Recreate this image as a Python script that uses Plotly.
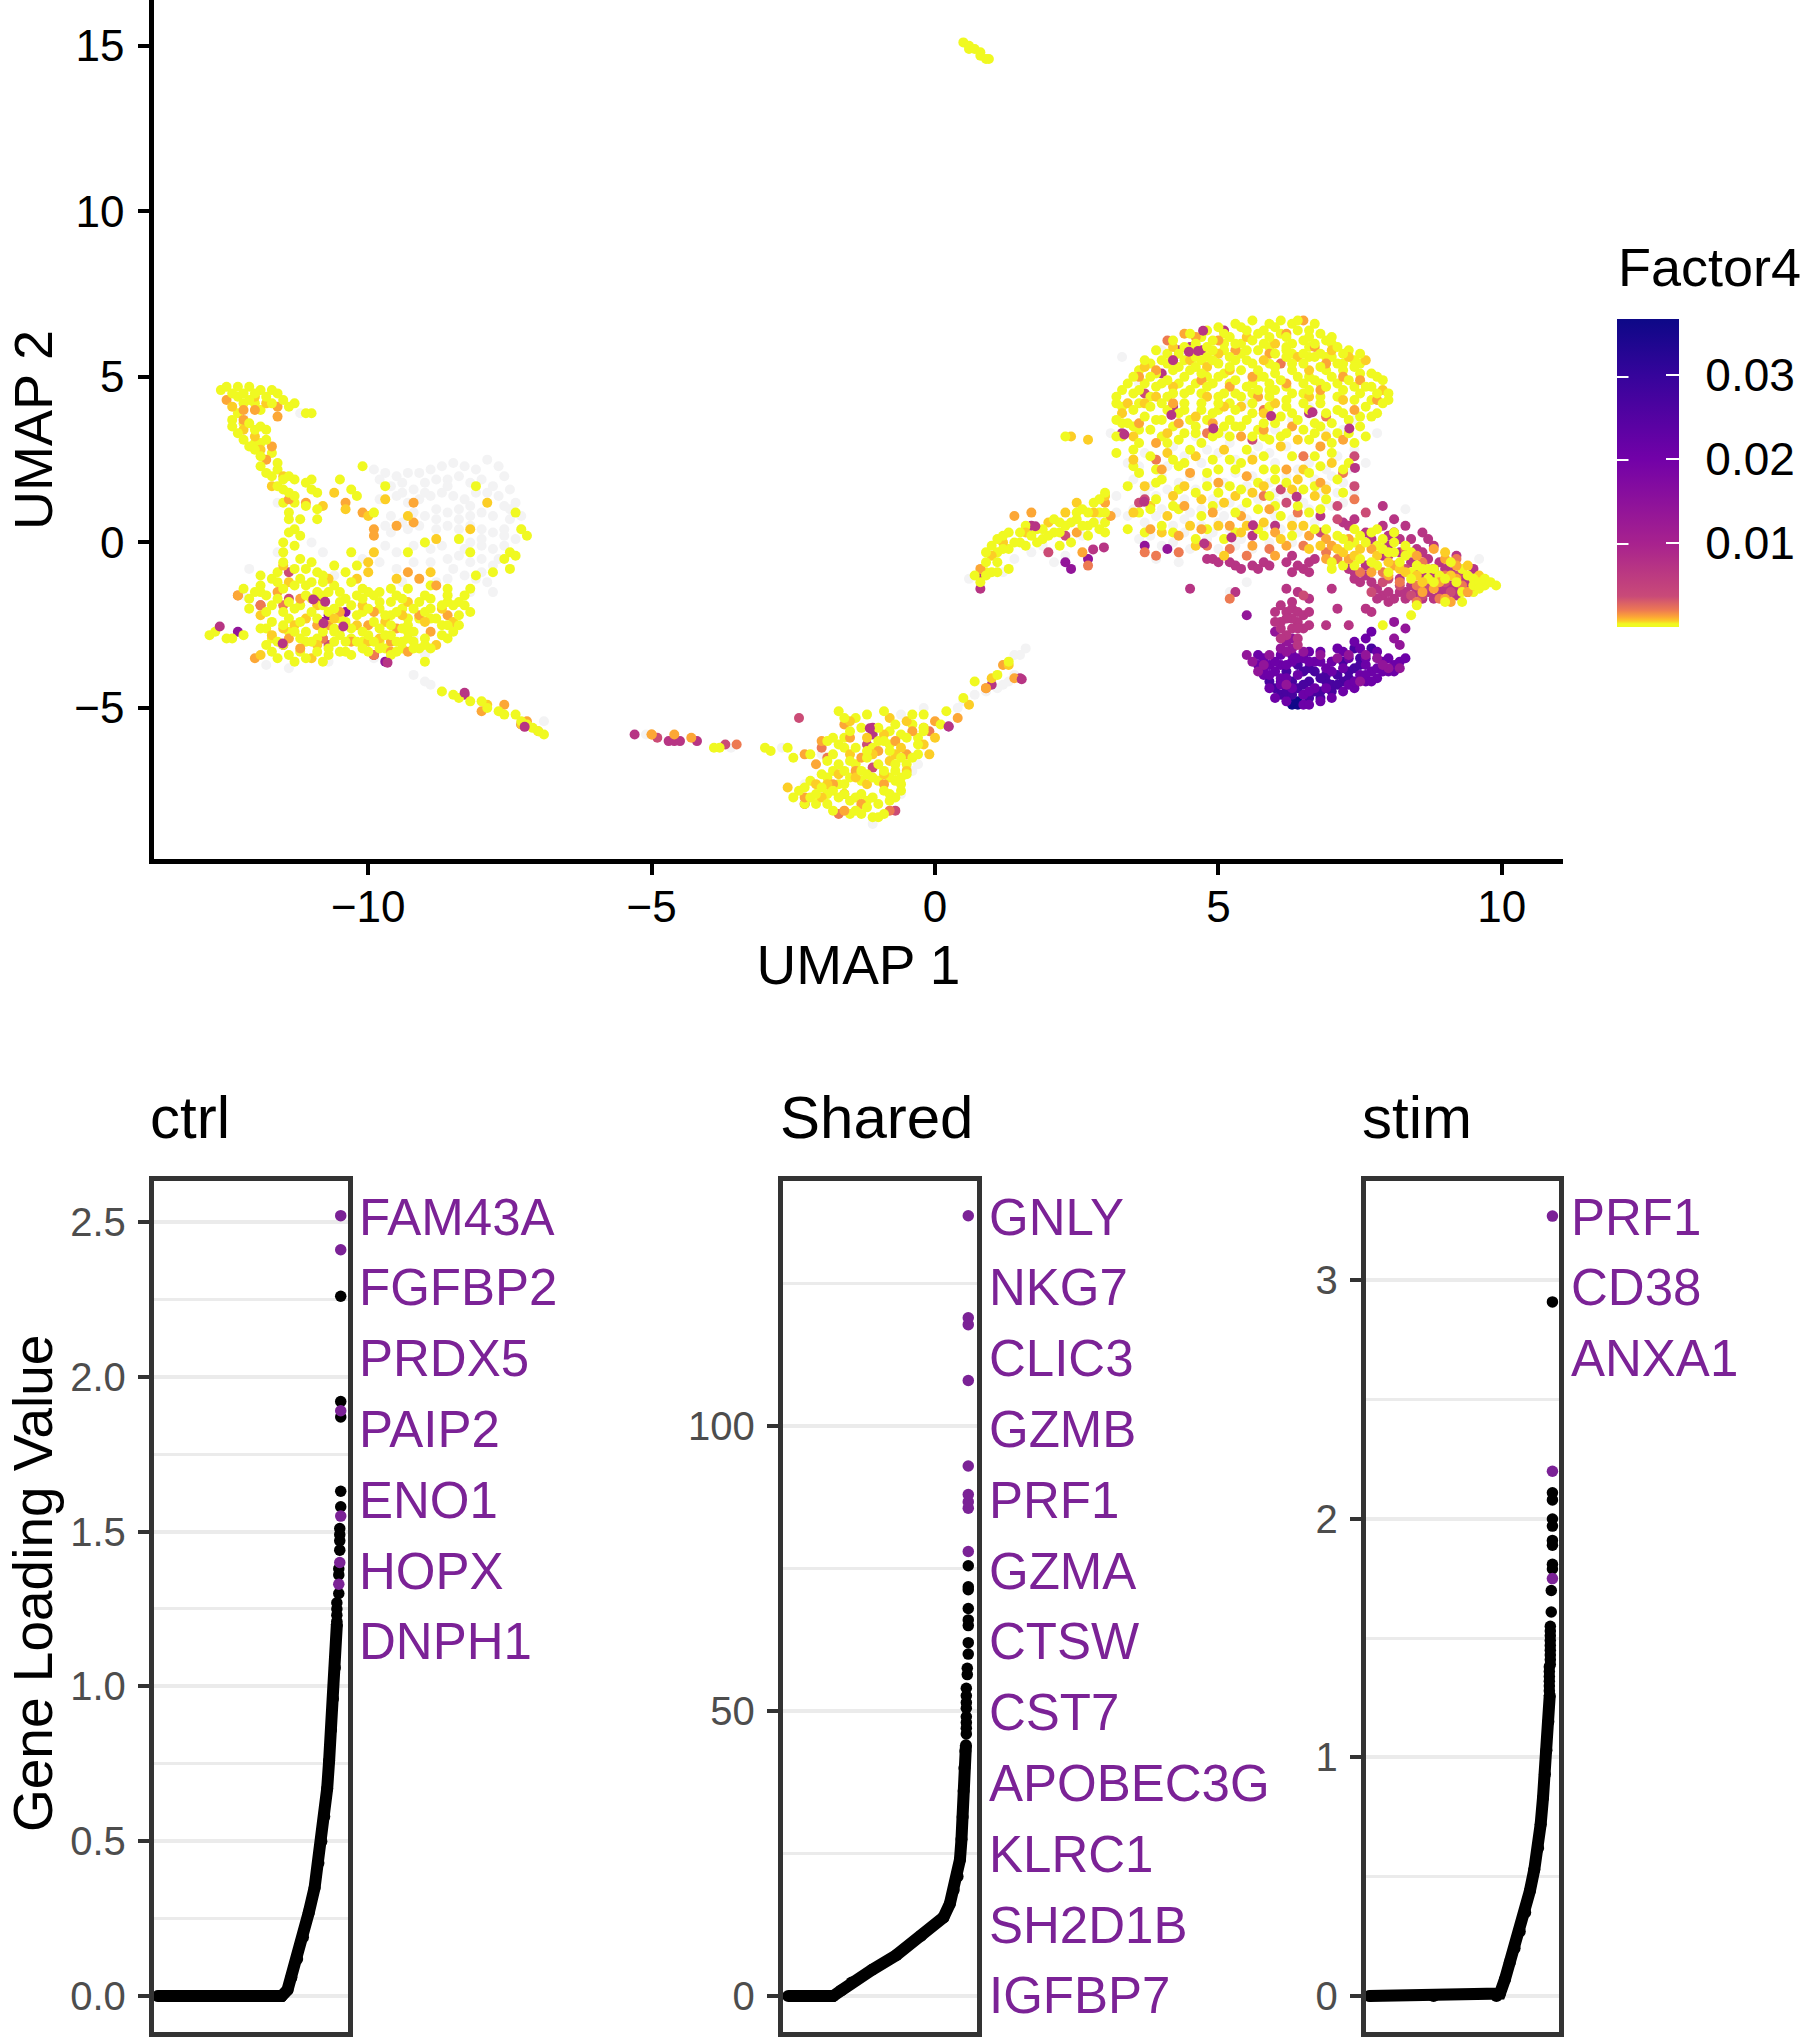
import plotly.graph_objects as go

W, H = 1804, 2040
FONT = "Liberation Sans"
PURPLE = "#7B2296"

# ---- UMAP points: (UMAP 1, UMAP 2) ----
pts_grey = [
(-9.9,2.2),(-9.7,2.1),(-9.5,2.0),(-9.3,2.1),(-9.1,2.1),(-8.9,2.2),(-8.7,2.3),(-8.5,2.4),(-8.3,2.3),(-8.1,2.2),(-7.9,2.5),(-7.7,2.3),(-7.6,2.0),
(-9.6,1.7),(-9.4,1.8),(-9.2,1.6),(-9.0,1.8),(-8.8,1.9),(-8.6,1.9),(-8.4,2.0),(-8.2,1.8),(-8.0,1.9),(-7.8,1.7),(-7.5,1.6),(-7.7,1.4),
(-9.8,1.3),(-9.5,1.4),(-9.3,1.2),(-9.1,1.3),(-8.9,1.4),(-8.7,1.5),(-8.5,1.4),(-8.3,1.3),(-8.1,1.5),(-7.9,1.2),(-7.6,1.1),(-7.4,1.2),(-7.3,0.8),
(-9.9,0.9),(-9.6,0.8),(-9.2,0.9),(-9.0,0.8),(-8.8,1.0),(-8.6,0.9),(-8.4,1.0),(-8.2,0.8),(-8.0,0.9),(-7.8,0.8),(-7.5,0.7),(-7.3,0.4),
(-9.6,0.3),(-9.3,0.4),(-9.1,0.5),(-8.8,0.4),(-8.6,0.5),(-8.4,0.4),(-8.2,0.5),(-8.0,0.4),(-7.8,0.3),(-7.6,0.4),(-7.4,0.1),
(-9.7,-0.1),(-9.5,-0.3),(-9.2,-0.1),(-9.0,0.0),(-8.7,-0.1),(-8.4,0.1),(-8.2,0.0),(-8.0,-0.1),(-7.8,-0.2),(-7.6,-0.1),
(-9.8,-0.6),(-9.5,-0.8),(-9.2,-0.6),(-8.9,-0.6),(-8.6,-0.5),(-8.4,-0.4),(-8.2,-0.6),(-8.0,-0.5),(-7.8,-0.7),
(-9.4,-1.2),(-9.1,-1.1),(-8.8,-1.2),(-8.6,-1.1),(-8.3,-1.0),(-8.1,-1.1),(-7.9,-1.2),(-7.8,-1.5),(-8.2,-1.5),(-8.6,-1.6),
(-9.8,1.9),(-9.4,1.5),(-9.0,1.5),(-8.6,1.7),(-8.2,1.1),(-7.9,1.5),(-7.5,1.0),(-8.4,0.7),(-8.8,0.7),(-9.4,0.6),(-9.7,0.5),(-8.0,0.1),(-7.6,0.2),(-8.9,-0.2),(-8.3,-0.2),(-7.7,-0.5),(-8.5,-0.8),(-8.0,-0.9),
(-11.6,-0.3),(-11.0,0.0),(-10.8,-0.3),(-10.1,-0.5),(-10.6,-1.0),(-12.1,-0.8),(-12.2,-1.6),(-11.6,1.2),(-11.2,3.9),(-12.2,3.9),
(-11.8,-3.7),(-11.4,-3.8),(-10.7,-3.6),(-9.9,-3.5),(-9.2,-2.9),(-9.0,-3.4),(-9.2,-4.0),(-9.0,-4.2),(-8.9,-4.3),(-8.7,-4.5),(-6.9,-5.4),
(-5.1,-5.8),(-3.6,-6.2),(-2.7,-6.2),(-1.1,-8.5),(-2.3,-7.3),(-2.0,-6.4),(-0.6,-5.2),(-0.4,-6.9),(-0.3,-6.7),(-0.6,-7.6),(-0.2,-5.0),
(0.4,-5.0),(0.5,-4.8),(0.7,-4.6),(0.9,-4.5),(1.0,-4.3),(1.1,-4.4),(1.2,-4.3),(1.3,-4.2),(1.4,-3.4),(1.5,-3.4),(1.6,-3.2),(1.4,-4.0),
(1.7,-0.3),(1.9,-0.1),(2.1,-0.6),(2.3,-0.4),(0.6,-1.1),(1.2,-0.9),(1.4,-0.5),(2.6,0.2),(2.9,0.7),(3.2,0.9),(3.2,1.4),(3.1,3.3),(3.3,5.6),
(3.4,2.4),(3.6,2.3),(3.9,2.5),(4.1,2.3),(4.4,2.6),(4.7,2.4),(5.0,2.7),(5.3,2.5),(5.6,2.6),(5.9,2.7),(6.2,2.9),(6.5,2.6),(6.8,2.9),(7.1,2.6),(7.4,2.8),(7.6,2.4),
(3.5,1.9),(3.8,1.7),(4.0,2.0),(4.3,1.8),(4.5,2.0),(4.8,1.9),(5.1,1.8),(5.3,2.1),(5.6,2.0),(5.9,1.8),(6.2,2.0),(6.4,2.2),(6.7,1.9),(7.0,2.0),(7.2,1.8),(7.4,1.5),
(3.6,1.2),(3.9,1.4),(4.2,1.1),(4.4,1.3),(4.7,1.0),(4.9,1.3),(5.2,1.2),(5.4,1.0),(5.7,1.3),(6.0,1.2),(6.2,1.4),(6.5,1.2),(6.8,1.5),(7.0,1.1),(7.2,1.2),
(3.4,0.8),(3.7,0.6),(3.9,0.8),(4.2,0.5),(4.4,0.7),(4.7,0.5),(5.0,0.6),(5.2,0.4),(5.5,0.7),(5.8,0.5),(6.1,0.4),(6.3,0.7),(6.6,1.0),(6.9,1.2),
(3.6,0.1),(4.0,-0.1),(4.2,0.0),(4.5,-0.2),(4.8,0.1),(5.0,-0.2),(5.3,-0.1),(5.6,-0.2),(3.9,-0.5),(4.3,-0.6),(5.2,-1.5),(5.5,-1.2),(7.9,1.1),(8.3,1.0),(9.6,-0.5),
(3.6,4.8),(4.0,5.8),(5.0,5.5),(5.5,4.2),(6.0,3.4),(6.3,3.7),(6.6,4.1),(6.9,3.3),(7.2,3.4),(7.4,3.7),(4.6,3.2),(5.1,3.3),(7.8,3.3),
(3.7,2.7),(4.2,2.9),(4.8,2.8),(5.2,3.0),(5.7,2.9),(6.0,2.4),(6.6,2.4),(6.9,2.2),(7.3,2.2),(3.7,1.5),(4.1,1.6),(4.6,1.6),(5.0,1.1),(5.5,1.7),(6.0,1.5),(6.4,1.5),(6.9,1.7),(7.1,1.5),(3.5,1.0),(4.0,1.0),(4.5,0.9),(5.1,0.8),
(5.6,0.5),(6.0,0.8),(6.4,0.3),(6.7,0.6),(3.8,0.2),(4.4,0.3),(4.9,0.3),(5.4,0.1),(5.9,0.0),(6.3,0.0),
]
pts_navy = [(6.3,-4.9),(6.4,-4.9),(6.4,-4.8),(6.2,-4.7),(6.3,-4.8)]
pts_indigo = [
(6.0,-4.4),(6.1,-4.6),(6.2,-4.5),(6.5,-4.6),(6.6,-4.7),(6.8,-4.5),(6.9,-4.2),(7.1,-4.0),(7.2,-4.2),(6.6,-4.2),(6.3,-4.2),(6.5,-3.9),(6.7,-3.9),(7.0,-4.5),
(6.2,-3.9),(5.9,-4.2),(6.4,-4.4),(6.8,-4.7),(7.0,-4.3),(7.3,-4.1),(7.4,-3.8),(7.2,-3.6),(7.5,-3.5),(7.7,-3.2),(7.4,-3.2),
(6.1,-4.2),(6.3,-4.6),(6.5,-4.3),(6.7,-4.5),(6.9,-4.0),(7.1,-4.3),(6.4,-3.7),(6.6,-3.8),(6.8,-4.1),(7.3,-3.9),(7.5,-3.7),
]
pts_violet = [
(5.7,-3.7),(5.8,-4.0),(5.9,-4.4),(6.0,-4.7),(6.2,-4.8),(6.5,-4.9),(6.6,-4.9),(6.8,-4.8),(7.0,-4.7),(7.2,-4.5),(7.4,-4.4),(7.6,-4.2),(7.8,-4.1),(8.0,-3.9),
(5.7,-3.4),(5.9,-3.7),(6.0,-3.9),(6.1,-4.1),(5.8,-3.5),(6.1,-3.4),(6.3,-3.6),(6.5,-3.5),(6.7,-3.6),(6.9,-3.8),(7.0,-3.6),(7.2,-3.3),(7.4,-3.0),(7.6,-2.9),(7.7,-2.7),
(7.5,-4.0),(7.7,-3.9),(7.8,-3.8),(7.9,-3.6),(8.1,-3.7),(8.2,-3.6),(8.3,-3.5),(8.0,-3.5),(7.6,-3.7),(7.3,-4.3),(6.7,-4.4),(6.9,-4.4),(6.4,-4.0),(6.1,-3.7),(6.3,-3.4),
(6.6,-3.3),(6.8,-3.3),(7.1,-3.2),(7.2,-3.8),(7.0,-3.6),(6.5,-4.6),(6.1,-4.3),(5.8,-3.8),(5.9,-4.0),(6.0,-3.6),(6.2,-3.7),(6.4,-3.5),(6.6,-3.6),(6.8,-3.6),(7.0,-3.9),(7.3,-3.5),(7.5,-3.2),(7.6,-3.5),(7.8,-3.3),
(7.4,-4.2),(7.6,-4.0),(7.7,-4.2),(7.9,-3.9),(8.1,-3.9),(6.3,-4.4),(6.6,-4.5),(6.2,-4.1),
]
pts_purple = [
(5.7,-3.9),(5.8,-3.7),(5.6,-3.6),(5.9,-3.4),(6.1,-3.2),(6.3,-3.2),(6.2,-3.3),(6.5,-3.3),(6.8,-3.4),(7.1,-3.5),(7.3,-3.4),
(7.6,-3.4),(7.8,-3.5),(8.0,-3.8),(8.2,-3.8),(7.5,-4.2),(7.9,-3.7),(6.2,-4.3),(5.5,-3.4),(8.1,-2.4),(5.5,-2.2),(3.7,-0.1),(4.1,-0.2),(2.3,-0.6),(2.4,-0.8),(2.7,-0.5),
(6.0,-2.7),(6.3,-2.9),(8.3,-2.6),(8.1,-2.9),(8.2,-3.1),(6.2,-3.0),
(-10.9,-1.7),(-10.8,-2.4),(-10.7,-2.2),(-10.4,-2.1),(-9.7,-3.6),(-12.3,-2.7),(0.24,-5.56),
]
pts_magenta = [
(6.1,-1.9),(6.0,-2.1),(6.2,-2.1),(6.3,-2.0),(6.4,-2.1),(6.5,-2.2),(6.4,-2.4),(6.3,-2.6),(6.5,-2.6),(6.6,-2.5),(6.9,-2.5),(6.1,-2.6),(6.3,-2.3),(6.3,-1.8),(6.4,-1.5),(6.2,-1.4),
(6.6,-1.7),(6.6,-2.1),(7.0,-1.4),(7.1,-2.0),(7.6,-2.0),(7.7,-2.1),(7.3,-2.5),(4.5,-1.4),(5.3,-1.5),(4.8,-0.5),(4.9,-0.5),(5.0,-0.6),(5.3,-0.7),(5.4,-0.8),(5.6,-0.7),(5.8,-0.6),
(5.9,-0.7),(6.3,-0.4),(6.4,-0.7),(6.5,-0.8),(6.6,-0.6),(6.7,-0.5),(6.3,-0.9),(6.6,-0.9),(6.8,0.8),(7.2,0.6),(7.3,0.5),(7.6,0.3),(7.7,0.1),(8.1,0.7),(8.3,0.5),(8.6,0.3),(8.2,0.1),(8.4,0.1),
(8.0,0.2),(8.0,-0.1),(8.2,-0.3),(8.5,-0.2),(8.7,-0.5),(8.4,-0.6),(8.9,-0.6),(9.1,-0.9),(9.3,-1.1),(9.5,-0.8),(7.3,-0.8),(7.4,-1.1),(7.5,-1.2),(7.7,-1.2),(7.9,-1.6),(8.0,-1.8),(8.1,-1.7),(8.3,-1.5),
(8.5,-1.5),(8.8,-1.7),(9.0,-1.6),(9.2,-1.6),(9.3,-1.4),(8.9,-1.3),(8.6,-1.0),(8.8,-1.0),(9.1,-1.3),(9.4,-1.2),(7.8,-1.4),(8.2,-1.1),(4.5,5.9),(4.7,5.8),(4.2,4.1),(4.0,5.1),(4.3,5.8),(5.1,6.4),(3.3,3.3),
(6.6,3.9),(7.9,1.1),(6.0,0.5),(5.6,0.2),(1.0,-4.3),(1.5,-4.1),(-4.7,-6.0),(-4.6,-6.0),(-4.5,-6.0),(-4.2,-6.0),(-5.3,-5.8),(-1.1,-5.6),(-1.1,-5.8),(-10.8,-1.7),(-11.5,-3.1),(-8.3,-4.6),(-7.3,-5.5),(0.8,-1.0),(1.7,0.5),(0.8,-1.4),
(7.9,-0.4),(8.5,-0.9),(7.6,-0.7),(8.7,-1.5),(-9.9,-3.4),
(8.3,-1.7),(8.6,-1.7),(8.9,-1.5),(9.0,-1.4),(9.2,-1.4),(9.4,-1.5),(8.2,-1.5),(8.0,-1.5),(7.8,-1.7),(7.6,-1.0),(7.4,-0.9),(8.4,-1.3),(8.6,-1.3),(8.8,-0.8),(9.0,-0.8),(8.6,-0.3),(8.8,-0.1),(9.2,-0.4),
(7.9,0.5),(8.1,0.3),(8.7,0.1),(7.4,0.7),(6.2,-0.6),(5.7,-0.8),(5.2,-0.6),
(6.2,-2.3),(6.1,-2.4),(6.4,-2.6),(6.2,-2.8),(6.4,-2.9),(6.4,-3.1),(6.1,-2.9),(6.0,-2.4),
]
pts_pink = [
(7.6,0.9),(7.1,0.7),(8.0,-0.4),(8.3,-0.8),(8.7,-1.3),(7.9,-1.2),(8.4,-1.6),(9.1,-1.5),(9.3,-0.9),(6.8,0.3),(6.2,1.2),(3.7,1.3),(3.6,1.2),(3.7,4.5),(5.6,3.1),(7.4,2.6),(7.4,1.7),(7.1,1.1),
(6.1,1.6),(-11.4,-0.9),(-11.9,-1.9),(-11.4,-1.7),(-9.9,-3.4),(-10.7,-3.1),(-10.8,-2.9),(-4.9,-5.9),(-3.7,-6.1),(-2.3,-7.9),(-1.1,-6.8),(-1.2,-6.1),(-0.7,-8.1),(-2.4,-5.3),(2.3,0.2),(2.0,-0.3),
(8.6,-1.6),(8.0,-1.1),(8.2,-1.3),(9.0,-1.2),(9.2,-1.0),(7.7,-1.5),(6.5,-1.6),
]
pts_redorange = [
(5.2,-1.7),(2.7,-0.7),(3.7,-0.3),(3.9,-0.4),(4.3,-0.3),(4.8,-0.1),(5.2,-0.2),(5.5,-0.4),(5.9,-0.2),(6.5,-0.1),(6.9,-0.3),(7.1,-0.5),(7.5,-0.9),(7.9,-0.9),(8.2,-1.2),(8.5,-1.3),(8.6,-0.6),(8.3,-0.2),
(9.0,-1.0),(9.2,-0.5),(9.3,-1.3),(8.9,-1.7),(8.5,-1.8),(5.8,1.4),(6.4,0.9),(4.8,3.3),(6.5,2.6),(7.2,2.1),(6.9,3.8),(7.4,1.3),(6.1,5.4),(4.1,6.1),(5.8,4.0),(3.9,2.5),
(-11.9,-1.9),(-12.3,-1.6),(-11.5,-1.9),(-9.9,-3.4),(-10.8,-2.9),(-0.1,-5.7),(-2.0,-6.2),(-1.6,-7.6),(-1.9,-6.5),(-0.8,-8.1),(-1.7,-8.2),(0.9,-4.4),(-3.5,-6.1),
]
pts_orange = [
(-12.5,4.3),(-12.2,4.0),(-12.0,4.0),(-11.6,4.1),(-11.6,3.8),(-12.2,3.7),(-11.7,2.9),(-11.8,2.5),(-11.4,1.3),(-11.1,1.2),(-10.4,1.2),(-10.1,0.9),(-9.9,0.4),(-9.9,0.2),(-9.5,0.5),(-9.2,1.2),(-9.2,0.6),(-8.8,-1.3),
(-9.3,-0.9),(-9.1,-1.1),(-12.3,-1.6),(-11.6,-1.5),(-11.2,-1.7),(-10.9,-2.5),(-10.7,-2.5),(-10.5,-2.1),(-10.0,-2.5),(-9.9,-2.1),(-9.6,-3.0),(-9.5,-2.6),(-9.6,-3.3),(-11.2,-3.2),(-12.0,-3.5),(-11.4,-2.9),
(-10.3,-3.0),(-9.1,-2.2),(-8.6,-2.2),(-8.9,-2.7),(-9.3,-3.3),(-7.6,-4.9),(-7.2,-5.4),(-7.0,-5.7),(-8.0,-5.1),(-5.0,-5.8),(-4.6,-5.8),(-4.3,-5.9),(-5.0,-5.8),
(-2.3,-6.4),(-2.1,-6.7),(-2.0,-6.0),(-1.6,-5.5),(-1.5,-5.9),(-1.3,-6.5),(-1.4,-6.9),(-1.0,-6.3),(-0.7,-6.0),(-0.5,-6.4),(-0.4,-5.7),(-0.2,-5.6),(-1.8,-7.3),(-1.3,-7.9),(-0.9,-7.3),(-2.3,-7.7),(-1.6,-8.1),
(0.0,-5.4),(0.9,-4.4),(1.2,-3.7),(1.4,-4.1),(0.4,-5.3),
(3.6,5.0),(3.9,5.2),(4.2,5.5),(4.4,6.3),(4.6,6.2),(5.0,6.1),(5.3,5.8),(5.6,5.0),(5.9,5.7),(6.2,6.3),(6.5,6.7),(6.7,5.9),(6.9,5.4),(7.2,5.0),(7.5,4.9),(7.8,4.3),(7.4,4.0),(6.8,4.6),(6.2,4.8),(5.7,4.4),
(5.2,4.7),(4.7,4.9),(4.2,4.2),(3.6,3.6),(3.9,3.0),(4.3,3.6),(4.9,3.6),(5.4,3.2),(5.8,3.4),(6.3,3.5),(6.8,2.9),(7.2,3.1),(4.0,2.2),(4.5,2.1),(5.0,1.8),(5.5,2.0),(6.2,2.2),(6.8,1.8),(4.4,1.1),(4.9,0.9),(5.4,0.8),(5.9,1.0),
(3.8,0.4),(4.3,0.2),(4.7,0.4),(5.2,0.5),(5.6,-0.1),(6.0,0.3),(6.6,0.2),(6.9,0.1),(7.3,0.1),(7.7,-0.2),(6.0,-0.4),(6.2,-0.1),(8.5,-0.4),(8.8,-0.2),(9.0,-0.5),(8.6,-1.5),(8.1,-0.7),(8.9,-1.2),(9.2,-0.7),
(9.4,-1.5),(9.1,-1.8),(7.0,-0.1),(1.4,0.8),(1.7,0.9),(2.5,0.3),(2.6,-0.3),(3.0,1.2),(3.1,0.8),(0.8,-0.8),
(6.9,-0.5),(7.3,-0.5),(7.7,-0.9),(8.0,-1.0),(8.8,-1.4),(9.0,-1.7),(9.5,-1.3),(9.2,-1.1),
]
pts_gold = [
(-12.4,4.1),(-12.0,4.4),(-11.8,4.2),(-12.2,3.4),(-12.0,3.2),(-11.9,2.8),(-11.5,2.0),(-11.7,1.7),(-10.8,1.1),(-10.6,1.5),(-10.4,1.0),(-9.7,1.3),(-10.0,0.8),(-9.9,-0.3),(-10.0,-0.6),(-9.3,0.8),
(-9.5,-1.1),(-8.9,-0.9),(-7.9,1.2),(-8.2,0.4),(-8.8,0.1),(-11.5,-0.7),(-11.4,-1.2),(-10.7,-1.1),(-10.2,-1.1),(-10.0,-0.9),(-11.9,-2.2),(-11.5,-2.6),(-11.1,-2.3),(-10.9,-1.9),(-10.2,-2.5),(-9.8,-2.9),(-9.4,-2.2),
(-9.0,-2.4),(-8.7,-2.0),(-8.5,-2.4),(-8.8,-3.1),(-11.0,-3.5),(-11.9,-3.4),(-10.0,-3.0),(-7.9,-4.9),(-7.3,-5.5),(-2.6,-7.4),(-2.1,-7.3),(-2.0,-7.7),(-1.7,-7.0),(-1.5,-6.4),(-1.2,-7.3),(-1.1,-6.4),
(-0.8,-6.6),(-0.5,-6.9),(-0.6,-6.2),(-0.2,-6.1),(-0.1,-6.4),(-1.5,-5.4),(-0.9,-5.8),(-0.5,-5.4),(-0.8,-5.3),(0.0,-5.9),(1.3,-3.7),(1.0,-4.1),(0.6,-4.9),
(3.4,4.2),(3.7,5.3),(3.9,4.4),(4.2,5.9),(4.5,5.5),(4.8,5.3),(5.0,5.7),(5.2,5.2),(5.5,6.2),(5.8,5.5),(6.0,6.0),(6.4,5.6),(6.6,5.2),(7.0,5.8),(7.3,5.6),(7.6,5.5),(7.9,4.6),(7.2,4.3),(6.6,4.4),(6.0,4.2),(5.4,4.1),(4.8,4.4),
(4.2,4.7),(3.7,4.2),(3.3,3.9),(3.5,3.2),(4.1,3.3),(4.6,3.8),(5.1,4.1),(5.8,3.9),(6.4,3.1),(6.9,3.2),(4.1,2.7),(3.5,2.5),(4.6,2.6),(5.1,2.8),(5.6,2.5),(6.1,2.9),(6.5,2.2),(7.0,2.4),(3.7,1.7),(4.4,1.7),(5.1,1.2),(5.6,1.5),(6.3,1.6),
(6.7,1.4),(3.5,0.9),(4.1,0.8),(4.5,0.5),(5.0,0.5),(5.4,0.3),(5.8,0.6),(6.3,0.5),(6.6,-0.2),(6.8,-0.1),(7.2,-0.3),(7.5,-0.2),(8.0,-0.6),(8.3,-0.9),(8.6,-1.2),(9.0,-0.3),(9.4,-0.7),(9.6,-1.0),(1.0,-0.4),(1.2,0.0),
(1.6,0.3),(2.0,0.6),(2.3,0.9),(2.5,1.2),(2.8,0.9),(3.0,1.4),(2.4,3.2),(2.7,3.1),
(3.8,1.1),(4.2,1.4),(4.7,1.3),(5.3,1.4),(5.8,1.7),(6.4,1.9),(6.9,1.6),(4.0,0.3),(4.6,-0.1),(5.1,-0.4),(5.5,0.5),(6.1,0.1),(6.5,0.5),(7.1,-0.2),(7.4,-0.4),(7.8,-0.4),(8.2,-0.8),(8.5,-1.0),(9.1,-1.0),
(-10.6,-2.3),(-10.1,-1.9),(-9.7,-2.4),(-11.3,-2.5),(-11.7,-2.8),(-10.9,-3.1),(-9.3,-1.8),(-1.9,-7.3),(-1.4,-7.1),(-0.9,-7.0),(-0.7,-6.4),(-1.2,-5.9),
]
pts_yellow = [
(0.5,15.1),(0.6,15.0),(0.6,14.9),(0.7,14.9),(0.8,14.8),(0.8,14.7),(0.9,14.6),(0.95,14.6),
(-12.6,4.6),(-12.5,4.7),(-12.3,4.7),(-12.1,4.7),(-11.9,4.6),(-11.7,4.6),(-11.6,4.5),(-11.5,4.3),(-12.4,4.5),(-12.2,4.5),(-12.0,4.5),(-11.8,4.4),(-12.1,4.3),(-11.7,4.2),(-11.3,4.2),(-11.1,3.9),(-11.0,3.9),(-11.4,4.1),
(-12.4,3.7),(-12.4,3.5),(-12.3,3.3),(-12.1,3.6),(-12.2,3.1),(-12.0,3.4),(-11.9,3.5),(-12.1,2.9),(-12.0,2.8),(-11.8,3.4),(-11.8,3.1),(-11.9,2.6),(-11.9,2.3),(-11.8,2.1),(-11.6,2.4),(-11.7,2.0),(-11.6,1.7),(-11.5,1.9),(-11.3,1.9),
(-11.4,2.0),(-11.4,1.5),(-11.0,1.6),(-11.0,1.9),(-11.1,1.8),(-11.3,1.4),(-11.1,1.1),(-10.9,1.0),(-10.9,0.7),(-11.4,0.9),(-11.4,0.7),(-11.2,0.7),(-11.3,0.4),(-11.4,0.3),(-11.2,0.2),(-11.5,0.0),(-11.3,-0.1),(-11.5,-0.3),(-11.2,-0.5),
(-11.5,-0.6),(-11.1,-0.8),(-10.8,-1.0),(-10.1,2.3),(-9.7,1.7),(-10.5,1.9),(-10.3,1.6),(-10.2,1.4),(-9.9,0.9),(-8.1,1.7),(-9.0,0.0),(-9.3,-0.3),(-8.4,0.1),(-8.2,-0.3),(-7.4,0.9),(-7.3,0.4),(-7.2,0.2),(-7.5,-0.3),(-7.4,-0.4),
(-7.6,-0.5),(-8.1,-1.0),(-8.2,-1.4),(-8.6,-1.6),(-7.5,-0.8),(-7.8,-0.9),
(-12.8,-2.8),(-12.7,-2.7),(-12.5,-2.9),(-12.4,-2.9),(-12.2,-2.8),
(-12.2,-1.4),(-12.1,-1.7),(-11.9,-1.3),(-11.9,-1.0),(-11.8,-1.6),(-11.8,-2.1),(-11.7,-1.1),(-11.6,-1.7),(-11.5,-2.1),(-11.5,-1.4),(-11.4,-1.8),(-11.3,-1.3),(-11.3,-2.0),(-11.2,-2.4),(-11.2,-1.1),(-11.1,-1.6),(-11.0,-1.2),(-11.0,-2.1),(-10.9,-1.5),(-10.9,-2.3),
(-10.8,-1.2),(-10.8,-1.9),(-10.7,-1.5),(-10.6,-2.0),(-10.6,-2.6),(-10.5,-1.5),(-10.5,-1.8),(-10.4,-2.4),(-10.3,-1.9),(-10.3,-1.2),(-10.2,-2.2),(-10.1,-1.7),(-10.1,-1.4),(-10.0,-2.0),(-9.9,-1.6),(-9.9,-2.4),(-9.8,-1.8),(-9.7,-2.2),
(-9.6,-1.8),(-9.6,-2.5),(-9.5,-2.1),(-9.4,-1.7),(-9.3,-2.5),(-9.2,-2.0),(-9.2,-2.7),(-9.1,-1.8),(-9.0,-2.1),(-8.9,-2.0),(-8.9,-1.7),(-8.8,-2.3),(-8.7,-1.9),(-8.6,-2.5),(-8.5,-1.9),(-8.4,-2.2),(-8.3,-1.9),(-8.2,-2.1),(-8.6,-2.9),(-8.4,-2.5),
(-11.9,-2.6),(-11.8,-3.1),(-11.7,-2.4),(-11.6,-3.0),(-11.6,-3.5),(-11.5,-2.5),(-11.4,-3.4),(-11.3,-2.7),(-11.3,-3.6),(-11.2,-2.9),(-11.1,-3.5),(-11.1,-2.7),(-11.0,-3.0),(-10.9,-3.3),(-10.8,-2.7),(-10.8,-3.6),(-10.7,-3.2),(-10.6,-3.0),
(-10.5,-2.8),(-10.5,-3.3),(-10.4,-3.0),(-10.3,-2.6),(-10.3,-3.4),(-10.2,-3.0),(-10.1,-2.7),(-10.1,-3.2),(-10.0,-2.8),(-9.9,-3.0),(-9.8,-2.6),(-9.8,-3.2),(-9.7,-2.8),(-9.6,-2.8),(-9.5,-3.3),(-9.4,-3.0),(-9.3,-2.9),(-9.2,-3.2),(-9.1,-3.2),(-9.0,-2.9),
(-8.9,-3.2),(-9.4,-2.6),(-9.0,-3.6),(-9.6,-3.4),(-9.5,-3.0),(-8.7,-4.5),(-8.5,-4.6),(-8.4,-4.7),(-8.2,-4.8),(-8.0,-4.8),(-7.9,-5.0),(-7.7,-5.1),(-7.6,-5.2),(-7.4,-5.2),(-7.3,-5.4),(-7.2,-5.5),(-7.1,-5.6),(-7.0,-5.7),(-6.9,-5.8),
(-3.9,-6.2),(-3.8,-6.2),(-3.0,-6.2),(-2.9,-6.3),(-2.6,-6.2),(-2.5,-6.5),(-2.2,-6.4),
(-2.4,-7.5),(-2.5,-7.7),(-2.3,-7.4),(-2.2,-7.7),(-2.1,-7.6),(-2.0,-7.4),(-1.9,-7.9),(-1.8,-7.5),(-1.7,-7.7),(-1.6,-7.3),(-1.5,-7.8),(-1.4,-8.1),(-1.3,-7.6),(-1.2,-8.0),(-1.1,-7.7),(-1.1,-8.3),(-1.0,-7.9),(-1.0,-8.3),(-0.9,-7.5),(-0.8,-7.8),(-0.7,-7.2),(-0.6,-7.5),
(-2.0,-7.0),(-1.9,-6.6),(-1.8,-6.4),(-1.7,-6.7),(-1.6,-6.9),(-1.5,-6.6),(-1.4,-6.2),(-1.3,-6.9),(-1.2,-6.5),(-1.1,-7.1),(-1.0,-6.7),(-0.9,-6.9),(-0.8,-6.3),(-0.7,-6.7),(-0.6,-6.5),(-0.5,-7.0),(-0.4,-6.5),(-0.3,-6.1),(-0.2,-5.7),(-0.6,-7.1),
(-1.7,-5.1),(-1.6,-5.3),(-1.5,-5.7),(-1.3,-5.6),(-1.2,-6.3),(-1.0,-5.6),(-0.9,-6.0),(-0.9,-5.1),(-0.7,-5.5),(-0.5,-5.9),(-0.4,-5.2),(-0.2,-5.2),(-0.2,-5.6),(-1.8,-5.9),(-1.9,-6.0),(0.1,-5.5),(0.2,-5.1),(0.5,-4.7),(0.7,-4.2),(1.1,-4.0),(1.3,-3.6),
(0.7,-1.0),(0.8,-1.2),(0.9,-1.0),(0.9,-0.6),(0.9,-0.3),(1.0,-0.9),(1.0,-0.1),(1.1,-0.6),(1.1,0.1),(1.2,-0.2),(1.2,0.2),(1.3,0.3),(1.3,-0.8),(1.4,0.0),(1.5,0.3),(1.6,-0.1),(1.7,0.2),(1.8,0.4),(1.8,0.0),(1.9,0.4),(2.0,0.2),(2.1,0.7),(2.2,0.3),
(2.2,-0.1),(2.3,0.5),(2.4,0.0),(2.4,0.6),(2.5,0.9),(2.6,0.5),(2.6,1.0),(2.7,0.2),(2.7,0.9),(2.8,1.2),(2.8,0.6),(2.9,1.3),(2.9,0.4),(3.0,0.9),(3.0,0.3),(3.0,1.5),(2.3,3.2),
(5.6,6.7),(6.1,6.7),(6.4,6.7),(6.7,6.6),(5.0,6.5),(5.3,6.6),(5.8,6.4),(6.0,6.5),(6.4,6.4),(6.8,6.3),(4.5,6.3),(4.8,6.4),(5.2,6.2),(5.5,6.4),(6.2,6.2),(6.6,6.2),(7.0,6.2),(4.2,6.1),(4.6,6.0),(4.9,6.1),(5.3,6.0),(5.6,6.1),(5.9,6.2),(6.3,6.0),(6.7,6.0),(7.1,5.9),(3.9,5.8),
(4.3,5.7),(4.6,5.6),(4.9,5.8),(5.2,5.6),(5.5,5.8),(5.7,5.8),(6.0,5.7),(6.2,5.8),(6.5,5.7),(6.8,5.7),(7.2,5.7),(7.5,5.7),(3.7,5.5),(4.0,5.5),(4.3,5.3),(4.6,5.3),(4.9,5.5),(5.2,5.3),(5.5,5.5),(5.7,5.2),(6.0,5.3),(6.3,5.4),(6.5,5.4),(6.8,5.3),(7.1,5.4),(7.4,5.3),(7.7,5.1),
(3.5,5.0),(3.8,5.0),(4.1,4.9),(4.4,5.0),(4.7,5.1),(5.0,5.0),(5.3,4.9),(5.5,4.7),(5.8,5.0),(6.1,4.9),(6.4,5.0),(6.7,4.9),(7.0,5.0),(7.3,4.9),(7.6,4.7),(7.9,4.9),(3.3,4.6),(3.6,4.6),(3.9,4.7),(4.2,4.5),(4.5,4.6),(4.8,4.7),(5.1,4.5),(5.4,4.4),(5.7,4.6),(6.0,4.6),(6.3,4.5),
(6.6,4.6),(6.9,4.7),(7.2,4.6),(7.5,4.5),(7.8,4.5),(8.0,4.5),(3.2,4.2),(3.5,4.0),(3.8,4.1),(4.0,4.2),(4.4,4.2),(4.7,4.2),(5.0,4.2),(5.3,4.0),(5.6,4.2),(5.9,4.4),(6.2,4.1),(6.5,4.2),(6.8,4.2),(7.1,4.0),(7.6,4.1),(7.9,4.2),(3.2,3.7),(3.4,3.6),(3.7,3.8),(4.0,3.7),(4.3,3.9),
(4.6,3.5),(4.9,3.9),(5.2,3.7),(5.5,3.7),(5.8,3.6),(6.1,3.8),(6.4,3.7),(6.7,3.6),(7.0,3.6),(7.3,3.7),(7.7,3.8),(3.3,3.2),(3.6,3.0),(3.8,3.4),(4.1,3.0),(4.4,3.3),(4.7,3.0),(5.0,3.3),(5.3,3.5),(5.6,3.2),(5.9,3.1),(6.2,3.3),(6.6,3.1),(7.0,3.0),(7.3,3.3),(7.6,3.2),
(3.2,2.7),(3.5,2.8),(3.8,2.6),(4.2,2.5),(4.5,2.8),(4.9,2.5),(5.2,2.5),(5.5,2.8),(5.8,2.6),(6.3,2.6),(6.7,2.6),(7.0,2.7),(7.3,2.4),(3.6,2.1),(4.0,1.9),(4.3,2.3),(4.8,2.1),(5.3,2.2),(5.8,2.2),(6.0,1.9),(6.6,2.1),(7.1,1.9),(3.9,1.3),(4.6,1.5),(5.0,1.5),(5.4,1.6),(5.9,1.4),
(6.5,1.6),(6.9,1.3),(7.2,1.5),(3.8,1.0),(4.2,1.1),(4.7,0.8),(5.3,0.9),(5.7,1.0),(6.1,0.8),(6.6,0.9),(3.4,0.4),(4.0,0.5),(4.6,0.1),(5.1,0.1),(5.8,0.2),(6.3,0.2),(6.7,0.4),
(6.9,0.4),(7.0,-0.6),(7.2,0.1),(7.3,-0.1),(7.4,0.4),(7.5,-0.5),(7.6,0.0),(7.7,-0.6),(7.8,0.4),(7.9,-0.2),(8.0,-0.9),(8.1,0.3),(8.1,-0.3),(8.2,-0.6),(8.3,-0.4),(8.4,-1.1),(8.5,-0.7),(8.7,-0.8),(8.8,-0.8),(8.8,-1.2),(9.0,-1.1),(9.1,-0.6),(9.2,-1.2),
(9.4,-1.0),(9.5,-1.1),(9.5,-1.3),(9.6,-1.2),(9.7,-1.1),(9.8,-1.2),(9.9,-1.3),(9.6,-1.4),(9.3,-1.8),(9.0,-1.8),(8.5,-1.9),(7.9,-2.5),(8.4,-2.2),
]
# second pass over the dense regions of the picture
pts_yellow_dense = [
(5.4,6.5),(5.9,6.6),(6.3,6.6),(6.6,6.4),(4.7,6.2),(5.1,6.3),(5.7,6.3),(6.1,6.3),(6.5,6.1),(6.9,6.1),(4.4,5.9),(4.8,5.9),(5.1,6.0),(5.4,6.0),(5.8,6.0),(6.2,5.9),(6.6,5.9),(7.0,6.0),(7.3,5.8),(4.1,5.7),(4.5,5.8),(4.8,5.6),(5.1,5.8),(5.4,5.7),(5.9,5.9),(6.3,5.7),
(6.7,5.6),(7.0,5.6),(7.4,5.5),(3.8,5.4),(4.1,5.4),(4.4,5.5),(4.7,5.5),(5.0,5.4),(5.3,5.5),(5.6,5.4),(5.9,5.4),(6.2,5.6),(6.6,5.6),(6.9,5.6),(7.2,5.4),(7.5,5.4),(7.8,5.0),(3.6,5.2),(3.9,5.1),(4.2,5.2),(4.5,5.2),(4.8,5.0),(5.1,5.1),(5.4,5.2),(5.7,5.0),(6.0,5.1),(6.3,5.2),
(6.6,5.0),(6.9,5.2),(7.2,5.2),(7.5,5.1),(3.4,4.8),(3.7,4.8),(4.0,4.8),(4.3,4.8),(4.6,4.8),(4.9,4.8),(5.2,4.8),(5.6,4.8),(5.9,4.8),(6.2,4.7),(6.5,4.8),(6.8,4.8),(7.1,4.8),(7.4,4.7),(7.7,4.7),(3.2,4.4),(3.5,4.5),(3.8,4.4),(4.1,4.4),(4.4,4.5),(4.7,4.5),(5.0,4.4),(5.3,4.5),
(5.6,4.5),(5.9,4.6),(6.2,4.3),(6.5,4.5),(6.8,4.4),(7.1,4.4),(7.4,4.3),(7.7,4.3),(8.0,4.3),(3.3,4.1),(3.6,4.2),(4.1,4.0),(4.4,4.0),(4.7,4.0),(5.0,4.0),(5.2,4.2),(5.6,3.9),(5.9,4.1),(6.3,3.9),(6.6,4.0),(6.9,3.9),(7.2,3.9),(7.5,3.8),(7.8,3.9),(3.3,3.6),(3.6,3.4),(3.9,3.7),(4.2,3.5),
(4.5,3.7),(4.8,3.7),(5.1,3.5),(5.4,3.5),(5.7,3.4),(6.0,3.6),(6.5,3.4),(6.8,3.5),(7.1,3.3),(7.5,3.5),(3.2,3.2),(3.5,3.5),(4.0,3.2),(4.3,3.1),(4.6,3.3),(4.9,3.2),(5.2,3.2),(5.8,3.2),(6.1,3.2),(6.7,3.3),(7.4,3.0),
(3.5,2.3),(3.9,2.2),(4.4,2.4),(5.0,2.2),(5.4,2.4),(6.0,2.2),(6.8,2.3),(7.2,2.2),(3.4,1.7),(3.9,1.8),(4.3,1.6),(4.8,1.7),(5.2,1.7),(5.7,1.8),(6.2,1.8),(6.7,1.7),(3.6,0.9),(4.3,1.0),(4.9,1.1),(5.5,1.2),(6.0,1.1),(6.4,1.1),(6.8,1.0),(3.7,0.3),(4.2,0.3),(4.8,0.4),(5.3,0.3),(5.7,0.4),
(-11.9,-1.5),(-11.7,-1.9),(-11.6,-1.2),(-11.4,-2.3),(-11.2,-1.9),(-11.1,-1.3),(-11.0,-1.7),(-10.8,-1.6),(-10.7,-2.1),(-10.6,-1.3),(-10.5,-2.3),(-10.4,-1.7),(-10.2,-1.6),(-10.1,-2.1),(-10.0,-1.5),(-9.8,-1.5),(-9.8,-2.0),(-9.6,-2.2),(-9.5,-1.6),(-9.4,-2.0),(-9.3,-2.3),(-9.1,-2.3),
(-9.0,-1.6),(-8.9,-2.3),(-8.7,-2.5),(-8.6,-1.8),(-8.4,-1.8),(-8.5,-2.7),(-8.7,-2.8),(-11.8,-2.6),(-11.7,-3.3),(-11.5,-3.1),(-11.4,-2.7),(-11.2,-3.3),(-11.1,-3.0),(-10.9,-2.9),(-10.7,-3.4),(-10.6,-2.7),(-10.4,-3.3),(-10.3,-2.9),(-10.1,-3.0),(-10.0,-3.3),(-9.8,-3.0),(-9.7,-3.2),
(-9.4,-3.2),(-9.2,-3.0),(-9.0,-3.1),(-9.3,-2.7),(-12.0,-1.5),(-11.7,-2.9),(-12.1,-2.0),(-11.6,-0.9),(-11.0,-0.6),(-10.9,-0.9),(-11.3,-0.8),(-10.6,-0.7),(-10.4,-0.9),(-10.2,-0.7),(-10.3,-0.3),(-9.6,-1.4),(-9.3,-1.4),(-8.9,-1.3),(-8.6,-1.4),(-8.3,-1.6),(-11.3,1.2),(-11.5,1.2),(-10.9,1.5),
(-12.3,4.4),(-12.2,4.2),(-12.0,4.2),(-11.9,4.0),(-12.3,3.9),(-12.2,3.6),(-12.0,3.0),(-11.9,3.0),(-11.7,2.7),(-11.6,2.2),(-11.5,1.6),
(-2.3,-7.9),(-2.1,-7.9),(-1.9,-7.6),(-1.8,-8.1),(-1.6,-7.6),(-1.5,-8.2),(-1.4,-7.7),(-1.3,-8.2),(-1.2,-7.8),(-0.9,-8.2),(-0.8,-7.6),(-0.7,-7.7),(-0.6,-7.3),(-1.9,-7.1),(-1.8,-6.9),(-1.5,-7.1),(-1.3,-7.2),(-1.2,-7.0),(-1.0,-7.2),(-0.8,-7.1),(-0.7,-6.9),(-0.5,-6.7),(-0.3,-6.4),
(-1.7,-6.1),(-1.6,-6.2),(-1.4,-6.7),(-1.1,-6.2),(-1.0,-6.0),(-0.8,-6.1),(-0.6,-5.8),(-0.3,-5.9),(-1.6,-5.9),(-1.4,-5.3),(-1.2,-5.2),(-0.8,-5.7),(-0.4,-5.5),(-2.2,-7.2),(-1.7,-7.3),
(7.1,0.2),(7.4,0.0),(7.5,0.2),(7.7,0.3),(7.8,-0.1),(7.9,0.1),(8.1,0.0),(8.3,-0.1),(8.4,-0.3),(8.0,-0.3),(8.6,-0.8),(8.4,-0.9),(8.9,-1.0),(9.3,-0.8),(9.3,-1.5),(9.5,-1.5),(9.7,-1.3),(8.7,-1.1),(7.8,-0.7),(7.4,-0.7),(7.2,-0.7),(7.0,-0.8),
(1.1,-0.3),(1.3,-0.2),(1.5,0.0),(1.6,0.5),(1.9,0.1),(2.1,0.3),(2.2,0.6),(2.5,0.7),(2.7,0.5),(2.9,0.9),(3.0,0.6),(0.9,-0.9),(1.1,-0.9),
]
# distinct dark dots that sit on top of the yellow ones in the picture
pts_accent = [
(4.73,6.39),(4.48,5.76),(4.64,5.78),(4.17,3.85),(3.34,3.26),(4.2,5.5),(4.91,3.44),(5.93,3.82),(6.66,3.93),(7.31,3.44),(7.41,2.25),(6.38,1.38),(3.69,1.23),(5.23,0.15),(5.61,0.52),(1.77,0.49),(2.79,-0.21),(2.98,-0.15),(4.75,-0.03),
(-10.97,-1.72),(-10.76,-1.79),(-11.51,-3.05),(-12.62,-2.54),(-10.79,-2.44),(-10.44,-2.54),(-9.66,-3.63),(-8.3,-4.54),(-7.24,-5.57),(-1.15,-5.61),(0.24,-5.56),(1.53,-4.13),
]

# ---- colour values of the tiers above, in drawing order ----
tier_points = [pts_navy, pts_indigo, pts_violet, pts_purple, pts_magenta, pts_pink, pts_redorange, pts_yellow_dense, pts_orange, pts_gold, pts_yellow, pts_accent]
tier_values = [0.036, 0.027, 0.021, 0.014, 0.007, 0.0036, 0.002, 0.0002, 0.0012, 0.0007, 0.0002, 0.007]

umap_x, umap_y, umap_v = [], [], []
for pts, val in zip(tier_points, tier_values):
    for px_, py_ in pts:
        umap_x.append(px_); umap_y.append(py_); umap_v.append(val)

plasma_scale = [[0, "#f0f921"], [0.01, "#f0f921"], [0.02, "#fdca26"], [0.033, "#fca636"], [0.055, "#ed7953"], [0.10, "#c94a78"],
                [0.27, "#a8228e"], [0.545, "#7201a8"], [0.82, "#35049b"], [1, "#0d0887"]]

# ---- Gene loading panels ----
ctrl_rank = [0.02,0.30,0.66,0.69,0.71,0.74,0.77,0.80,0.83,0.85,0.865,0.88,0.895,0.905,0.915,0.925,0.935,0.945]
ctrl_curve = [0,0,0,0.02,0.06,0.12,0.19,0.27,0.35,0.43,0.50,0.58,0.67,0.76,0.86,0.96,1.06,1.20]
ctrl_black = [1.21,1.23,1.25,1.27,1.30,1.36,1.38,1.44,1.47,1.49,1.51,1.58,1.63,1.87,1.92,2.26]
ctrl_black_x = [0.945,0.945,0.945,0.945,0.955,0.955,0.955,0.96,0.96,0.96,0.96,0.965,0.965,0.965,0.965,0.965]
ctrl_purple = [1.33,1.40,1.55,1.89,2.41,2.52]
ctrl_purple_x = [0.955,0.96,0.965,0.965,0.965,0.965]

shared_rank = [0.027,0.15,0.259,0.30,0.354,0.459,0.585,0.712,0.827,0.86,0.88,0.90,0.912,0.92,0.926,0.931,0.935,0.94,0.943]
shared_curve = [0,0,0,1.0,2.4,4.6,7.2,10.6,13.8,16.2,18.6,21.0,23.9,27.5,31.4,36,40,43,44]
shared_black = [46,47,48,49,50.5,51.5,52.7,54,56.4,57.5,60,62,65,66,68,71.3,71.8,75.5]
shared_black_x = [0.945,0.945,0.945,0.945,0.945,0.945,0.945,0.945,0.95,0.95,0.955,0.955,0.955,0.955,0.955,0.955,0.955,0.955]
shared_purple = [78,85.6,86.7,88,93,108,117.8,119,136.9]
shared_purple_x = [0.955,0.955,0.955,0.955,0.955,0.955,0.955,0.955,0.955]

stim_rank = [0.017,0.35,0.676,0.694,0.72,0.745,0.77,0.797,0.825,0.849,0.872,0.892,0.905,0.917,0.927,0.935,0.945,0.952]
stim_curve = [0,0,0,0.01,0.07,0.14,0.20,0.27,0.35,0.44,0.53,0.62,0.72,0.83,0.93,1.03,1.15,1.26]
stim_black = [1.28,1.30,1.32,1.34,1.36,1.38,1.39,1.41,1.43,1.45,1.47,1.49,1.51,1.53,1.55,1.61,1.70,1.79,1.81,1.89,1.91,1.97,2.00,2.08,2.11,2.91]
stim_black_x = [0.95,0.95,0.95,0.95,0.95,0.95,0.955,0.955,0.955,0.955,0.955,0.955,0.955,0.955,0.955,0.96,0.96,0.966,0.966,0.966,0.966,0.966,0.966,0.966,0.966,0.966]
stim_purple = [1.75,2.20,3.27]
stim_purple_x = [0.966,0.966,0.966]

ctrl_genes = ["FAM43A","FGFBP2","PRDX5","PAIP2","ENO1","HOPX","DNPH1"]
shared_genes = ["GNLY","NKG7","CLIC3","GZMB","PRF1","GZMA","CTSW","CST7","APOBEC3G","KLRC1","SH2D1B","IGFBP7"]
stim_genes = ["PRF1","CD38","ANXA1"]

fig = go.Figure()

# UMAP
fig.add_trace(go.Scatter(x=[p[0] for p in pts_grey], y=[p[1] for p in pts_grey], mode="markers",
                         marker=dict(size=10, color="#f3f3f4"), xaxis="x", yaxis="y", showlegend=False))
fig.add_trace(go.Scatter(x=umap_x, y=umap_y, mode="markers", xaxis="x", yaxis="y", showlegend=False,
    marker=dict(size=10, color=umap_v, cmin=0, cmax=0.0367, colorscale=plasma_scale,
        colorbar=dict(x=1617/W, xanchor="left", xpad=0, y=1-319/H, yanchor="top", ypad=0,
                      lenmode="pixels", len=308, thicknessmode="pixels", thickness=62,
                      outlinewidth=0, tickvals=[0.01,0.02,0.03], ticktext=["\u00a0\u200a0.01","\u00a0\u200a0.02","\u00a0\u200a0.03"],
                      ticks="inside", ticklen=13, tickwidth=2, tickcolor="white",
                      tickfont=dict(family=FONT, size=46, color="black")))))

def panel(i, rank, curve, bx, by, px, py):
    xa, ya = f"x{i}", f"y{i}"
    fig.add_trace(go.Scatter(x=rank, y=curve, mode="lines+markers", line=dict(color="black", width=12),
                             marker=dict(color="black", size=12), xaxis=xa, yaxis=ya, showlegend=False))
    fig.add_trace(go.Scatter(x=bx, y=by, mode="markers", marker=dict(color="black", size=11.5),
                             xaxis=xa, yaxis=ya, showlegend=False))
    fig.add_trace(go.Scatter(x=px, y=py, mode="markers", marker=dict(color=PURPLE, size=11.5),
                             xaxis=xa, yaxis=ya, showlegend=False))

panel(2, ctrl_rank, ctrl_curve, ctrl_black_x, ctrl_black, ctrl_purple_x, ctrl_purple)
panel(3, shared_rank, shared_curve, shared_black_x, shared_black, shared_purple_x, shared_purple)
panel(4, stim_rank, stim_curve, stim_black_x, stim_black, stim_purple_x, stim_purple)

def dom_x(a, b): return [a/W, b/W]
def dom_y(top, bot): return [1-bot/H, 1-top/H]

axis_main = dict(showline=True, linecolor="black", linewidth=4.5, showgrid=False, zeroline=False,
                 ticks="outside", ticklen=11, tickwidth=4, tickcolor="black",
                 tickfont=dict(family=FONT, size=44, color="black"))
def lower_y(rng, major, minor, fmt, anchor):
    return dict(domain=dom_y(1181, 2032), range=rng, anchor=anchor, showline=True, mirror=True, linecolor="#333333", linewidth=5.4,
                tickmode="array", tickvals=major, tickformat=fmt, ticks="outside", ticklen=11, tickwidth=4, tickcolor="#333333",
                ticklabelstandoff=4,
                tickfont=dict(family=FONT, size=40, color="#4d4d4d"), showgrid=True, gridcolor="#ebebeb", gridwidth=4, zeroline=False,
                minor=dict(tickmode="array", tickvals=minor, showgrid=True, gridcolor="#ebebeb", gridwidth=2.5, ticks=""))
def lower_x(a, b, anchor):
    return dict(domain=dom_x(a, b), range=[0, 1.0], anchor=anchor, showline=True, mirror=True, linecolor="#333333", linewidth=5.4,
                showticklabels=False, ticks="", showgrid=False, zeroline=False)

fig.update_layout(
    width=W, height=H, margin=dict(l=0, r=0, t=0, b=0, autoexpand=False), paper_bgcolor="white", plot_bgcolor="white",
    xaxis=dict(domain=dom_x(154, 1563), range=[-13.78, 11.08], tickvals=[-10,-5,0,5,10], anchor="y", ticklabelstandoff=-6,
               title=dict(text="UMAP 1", font=dict(family=FONT, size=55, color="black"), standoff=17), **axis_main),
    yaxis=dict(domain=dom_y(0, 859), range=[-9.56, 16.38], tickvals=[-5,0,5,10,15], anchor="x", ticklabelstandoff=5,
               **axis_main),
    xaxis2=lower_x(154, 347.5, "y2"),
    yaxis2=lower_y([-0.116, 2.632], [0,0.5,1,1.5,2,2.5], [0.25,0.75,1.25,1.75,2.25], ".1f", "x2"),
    xaxis3=lower_x(783, 977, "y3"),
    yaxis3=lower_y([-6.3, 143.0], [0,50,100], [25,75,125], "d", "x3"),
    xaxis4=lower_x(1366, 1559, "y4"),
    yaxis4=lower_y([-0.151, 3.417], [0,1,2,3], [0.5,1.5,2.5], "d", "x4"),
)

annotations = []
def label(text, x, y, size, color="black", anchor="left", angle=0):
    annotations.append(dict(text=text, x=x/W, y=1-y/H, xref="paper", yref="paper", xanchor=anchor, yanchor="middle",
                            showarrow=False, textangle=angle, font=dict(family=FONT, size=size, color=color)))
label("Factor4", 1616, 267, 54)
label("ctrl", 148, 1117, 60)
label("Shared", 778, 1117, 60)
label("stim", 1360, 1117, 60)
label("UMAP 2", 33, 430, 54, anchor="center", angle=-90)
label("Gene Loading Value", 33, 1584, 55, anchor="center", angle=-90)
first_y, step_y = 1217, 70.8
for xp, genes in ((357, ctrl_genes), (987, shared_genes), (1569, stim_genes)):
    for k, g in enumerate(genes):
        label(g, xp, first_y + k*step_y, 51, PURPLE)
# left-hand white ticks of the colour bar
for v_y in (377, 460, 544):
    annotations.append(dict(x=1617/W, y=1-v_y/H, xref="paper", yref="paper", text="", showarrow=True, arrowhead=0,
                            arrowwidth=2, arrowcolor="white", ax=13, ay=0, axref="pixel", ayref="pixel", standoff=0))
fig.update_layout(annotations=annotations)

fig.write_html("out.html", config=dict(displayModeBar=False), post_script="document.body.style.margin='0';")
